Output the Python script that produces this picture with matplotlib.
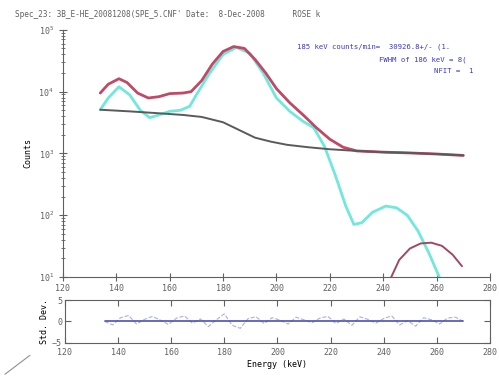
import numpy as np
import matplotlib
matplotlib.use('Agg')
import matplotlib.pyplot as plt
from matplotlib.lines import Line2D

# spectrum (cyan), total fit (red), background (grey), small peak (dark red)
spec_e = [134, 137, 141, 145, 149, 152.5, 156, 160, 164, 167.5, 170, 175, 180,
          185, 190, 195, 200, 205, 210, 214, 218, 222, 226, 229, 232, 236,
          241, 245, 249, 253, 257, 261, 262]
spec_c = [5100, 7900, 12000, 8900, 5000, 3800, 4200, 4800, 5000, 5800, 8900,
          20000, 40000, 52000, 42000, 20000, 7900, 4800, 3300, 2600, 1300,
          450, 140, 71, 76, 112, 141, 132, 100, 56, 25, 10, 8]

fit_e = [134, 137, 141, 144, 148, 152, 156, 160, 165, 168, 172, 176, 180, 184,
         188, 192, 196, 200, 205, 210, 215, 220, 225, 230, 240, 250, 260, 270]
fit_c = [9500, 13200, 16200, 14100, 9500, 7900, 8300, 9300, 9500, 10000,
         15100, 28000, 44700, 53700, 50100, 33100, 20000, 11200, 6600, 4200,
         2600, 1700, 1260, 1100, 1050, 1020, 980, 930]

bg_e = [134, 145, 155, 165, 172, 180, 186, 192, 198, 204, 212, 220, 230, 240,
        250, 260, 270]
bg_c = [5100, 4800, 4500, 4200, 3900, 3200, 2400, 1800, 1550, 1380, 1260,
        1170, 1100, 1050, 1020, 980, 930]

pk_e = [243, 246, 250, 254, 258, 262, 266, 269.5]
pk_c = [10, 19, 29, 35, 36, 32, 23, 15]

res_e = [135, 138, 141, 144, 147, 150, 153, 156, 159, 162, 165, 168, 171, 174,
         177, 180, 183, 186, 189, 192, 195, 198, 201, 204, 207, 210, 213, 216,
         219, 222, 225, 228, 231, 234, 237, 240, 243, 246, 249, 252, 255, 258,
         261, 264, 267, 270]
res_v = [0.0, -0.8, 0.9, 1.4, -0.6, 0.5, 1.2, 0.3, -0.7, 0.8, 1.3, -0.4, 0.6,
         -1.2, 0.4, 1.8, -0.9, -1.6, 0.7, 1.1, -0.5, 0.9, 0.3, -0.6, 1.0, 0.4,
         -0.3, 0.8, 1.2, -0.5, 0.6, -0.9, 1.1, 0.5, -0.4, 0.7, 1.3, -0.8, 0.2,
         -1.1, 0.9, 0.4, -0.6, 0.8, 1.0, 0.0]

title = "Spec_23: 3B_E-HE_20081208(SPE_5.CNF' Date:  8-Dec-2008      ROSE k"
info = ["185 keV counts/min=  30926.8+/- (1.",
        "FWHM of 186 keV = 8(",
        "NFIT =  1"]

grey = '#606060'
mono = 'DejaVu Sans Mono'
plt.rcParams['font.family'] = mono
plt.rcParams['font.size'] = 6
plt.rcParams['text.color'] = grey
plt.rcParams['xtick.color'] = grey
plt.rcParams['ytick.color'] = grey
plt.rcParams['axes.edgecolor'] = grey
plt.rcParams['lines.solid_joinstyle'] = 'round'
plt.rcParams['lines.solid_capstyle'] = 'round'

fig = plt.figure(figsize=(4.99, 3.78), dpi=100)
ax = fig.add_axes([0.126, 0.267, 0.856, 0.654])
ax2 = fig.add_axes([0.130, 0.093, 0.852, 0.113])

ax.plot(spec_e, spec_c, color='#70e8dc', lw=2.0)
ax.plot(fit_e, fit_c, color='#c04a66', lw=2.0)
ax.plot(bg_e, bg_c, color='#5a5a5a', lw=1.4)
ax.plot(pk_e, pk_c, color='#a04868', lw=1.4)

ax.set_yscale('log')
ax.set_xlim(120, 280)
ax.set_ylim(10, 1e5)
ax.set_xticks(np.arange(120, 281, 20))
ax.spines['top'].set_visible(False)
ax.spines['right'].set_visible(False)
ax.tick_params(axis='both', which='both', direction='inout', labelsize=6)
ax.tick_params(axis='x', length=6, pad=2)
ax.tick_params(axis='y', which='major', length=6)
ax.tick_params(axis='y', which='minor', length=3)
ax.set_ylabel('Counts', fontsize=6, labelpad=4)

ax2.plot(res_e, res_v, color='#a8b0e8', lw=0.8, ls='--')
ax2.plot([res_e[0], res_e[-1]], [0, 0], color='#5050b0', lw=1.2)
ax2.set_xlim(120, 280)
ax2.set_ylim(-5, 5)
ax2.set_xticks(np.arange(120, 281, 20))
ax2.set_yticks([-5, 0, 5])
ax2.tick_params(axis='both', direction='in', length=4, top=True, right=True,
                labelsize=6)
ax2.tick_params(axis='x', pad=4)
ax2.tick_params(axis='y', pad=2)
ax2.set_ylabel('Std. Dev.', fontsize=6, labelpad=2)
ax2.set_xlabel('Energy (keV)', fontsize=6, labelpad=2)

fig.text(0.03, 0.962, title, fontsize=5.6, ha='left', va='center')
fig.text(0.595, 0.876, info[0], fontsize=5.2, color='#3838d0', ha='left', va='center')
fig.text(0.760, 0.841, info[1], fontsize=5.2, color='#3838d0', ha='left', va='center')
fig.text(0.870, 0.812, info[2], fontsize=5.2, color='#3838d0', ha='left', va='center')

fig.add_artist(Line2D([0.01, 0.06], [0.01, 0.06], transform=fig.transFigure,
                      color='#909090', lw=0.8))

fig.savefig('out.png', dpi=100)
